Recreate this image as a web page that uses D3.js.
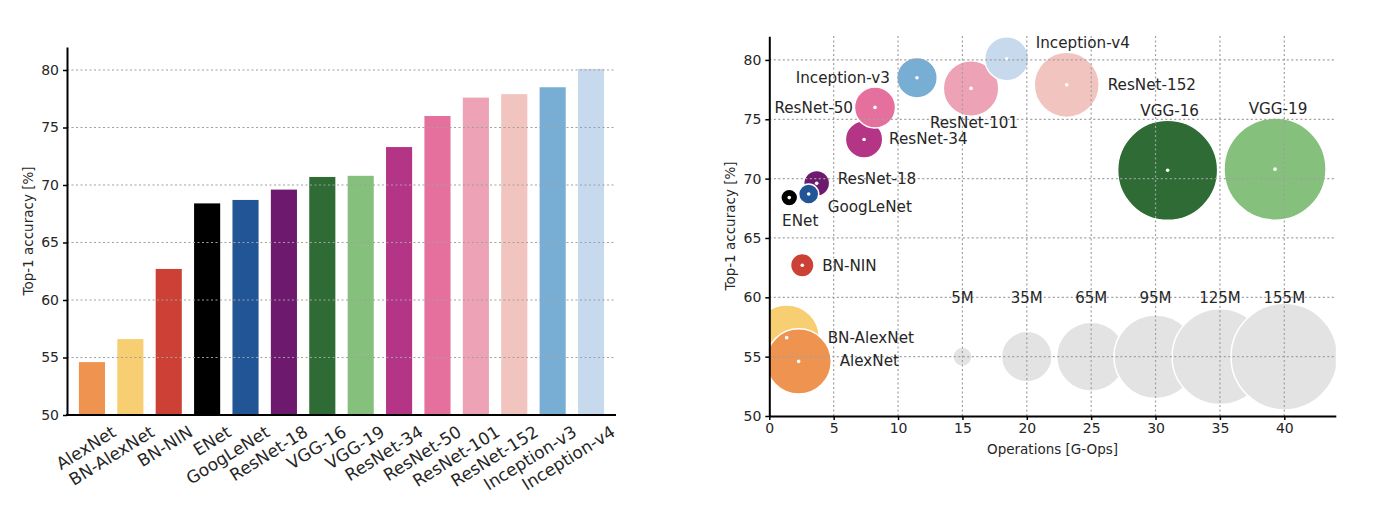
<!DOCTYPE html>
<html>
<head>
<meta charset="utf-8">
<script src="https://cdn.jsdelivr.net/npm/d3@7"></script>
<style>
  body { margin: 0; background: #fff; }
  svg { font-family: "DejaVu Sans", sans-serif; }
</style>
</head>
<body>
<script>
// Network names, in the order of the bar chart
var models = ["AlexNet", "BN-AlexNet", "BN-NIN", "ENet", "GoogLeNet", "ResNet-18", "VGG-16",
  "VGG-19", "ResNet-34", "ResNet-50", "ResNet-101", "ResNet-152", "Inception-v3", "Inception-v4"];

// Top-1 accuracy [%]
var accuracy = [54.6, 56.6, 62.7, 68.4, 68.7, 69.6, 70.7, 70.8, 73.3, 76.0, 77.6, 77.9, 78.5, 80.1];

// Operations [G-Ops]
var gops = [2.28, 1.35, 2.56, 1.55, 3.06, 3.68, 30.94, 39.28, 7.36, 8.21, 15.67, 23.1, 11.47, 18.44];

// Parameters [M] (bubble area)
var paramsM = [58, 58.4, 7.5, 3.9, 5.5, 9.2, 136.5, 142, 19, 23, 42, 57.7, 22.5, 26.4];

var colors = ["#ef9350", "#f7ce72", "#cc4036", "#000000", "#225595", "#6d1a6e", "#2e6b35",
  "#85c07d", "#b43586", "#e6709d", "#eda2b5", "#f2c4c0", "#78aed3", "#c7d9ec"];

// Size legend
var legendParams = [5, 35, 65, 95, 125, 155];
var legendOps = [15, 20, 25, 30, 35, 40];
var legendAcc = 55;
var legendLabels = ["5M", "35M", "65M", "95M", "125M", "155M"];

var yTicks = [50, 55, 60, 65, 70, 75, 80];
var xTicks = [0, 5, 10, 15, 20, 25, 30, 35, 40];

// label placement around each bubble (pixels from the centre)
var labelOffsets = {
  "AlexNet": [41, -1, "start"], "BN-AlexNet": [41, 0, "start"], "BN-NIN": [20, 0, "start"],
  "ENet": [11, 23, "middle"], "GoogLeNet": [19, 12, "start"], "ResNet-18": [21, -5, "start"],
  "ResNet-34": [25, -1, "start"], "ResNet-50": [-22, 0, "end"], "Inception-v3": [-27, 0, "end"],
  "ResNet-101": [3, 34, "middle"], "Inception-v4": [29, -16, "start"], "ResNet-152": [41, 0, "start"],
  "VGG-16": [2, -60, "middle"], "VGG-19": [3, -61, "middle"]
};
// drawing order of bubbles (later ones on top)
var drawOrder = ["BN-AlexNet", "AlexNet", "BN-NIN", "ENet", "ResNet-18", "GoogLeNet", "VGG-16", "VGG-19",
  "ResNet-34", "ResNet-50", "ResNet-101", "ResNet-152", "Inception-v3", "Inception-v4"];

var svg = d3.select("body").append("svg")
    .attr("width", 1390)
    .attr("height", 506);

var textColor = "#262626";
var gridColor = "#a0a0a0";

// ---------- Left: bar chart ----------
var left = svg.append("g");

var xBar = d3.scaleBand()
    .domain(models)
    .range([67, 616])
    .paddingInner(0.32)
    .paddingOuter(0.31);

var yBar = d3.scaleLinear().domain([50, 82]).range([415, 47]);

left.selectAll(".bar")
    .data(models)
    .enter().append("rect")
    .attr("class", "bar")
    .attr("x", function(d) { return xBar(d); })
    .attr("width", xBar.bandwidth())
    .attr("y", function(d, i) { return yBar(accuracy[i]); })
    .attr("height", function(d, i) { return yBar(50) - yBar(accuracy[i]); })
    .attr("fill", function(d, i) { return colors[i]; });

// horizontal grid
left.selectAll(".hgrid")
    .data(yTicks.slice(1))
    .enter().append("line")
    .attr("x1", 67).attr("x2", 616)
    .attr("y1", function(d) { return yBar(d); })
    .attr("y2", function(d) { return yBar(d); })
    .attr("stroke", gridColor)
    .attr("stroke-width", 1.2)
    .attr("stroke-dasharray", "2,2.5");

left.append("g")
    .attr("transform", "translate(67,0)")
    .call(d3.axisLeft(yBar).tickValues(yTicks).tickSize(4).tickSizeOuter(0).tickPadding(4));

left.append("line")
    .attr("x1", 66).attr("x2", 616)
    .attr("y1", 415).attr("y2", 415)
    .attr("stroke", "#000").attr("stroke-width", 2);

left.selectAll(".xlab")
    .data(models)
    .enter().append("text")
    .attr("transform", function(d) {
      return "translate(" + (xBar(d) + xBar.bandwidth() / 2 + 19) + ",425) rotate(-32)";
    })
    .attr("text-anchor", "end")
    .attr("dy", "0.7em")
    .attr("font-size", "17px")
    .attr("fill", textColor)
    .text(function(d) { return d; });

left.append("text")
    .attr("transform", "translate(33,231) rotate(-90)")
    .attr("text-anchor", "middle")
    .attr("font-size", "13.5px")
    .attr("fill", textColor)
    .text("Top-1 accuracy [%]");

// ---------- Right: bubble chart ----------
var right = svg.append("g");

var xOps = d3.scaleLinear().domain([0, 44]).range([769.3, 1335.8]);
var yAcc = d3.scaleLinear().domain([50, 82]).range([416, 36.2]);
var rSize = d3.scaleSqrt().domain([0, 155]).range([0, 53.3]);

svg.append("defs").append("clipPath")
    .attr("id", "plotclip")
    .append("rect")
    .attr("x", 769.3).attr("y", 36)
    .attr("width", 1335.8 - 769.3).attr("height", 380);

var bubbles = right.append("g").attr("clip-path", "url(#plotclip)");

// size legend (grey bubbles)
bubbles.selectAll(".legbub")
    .data(legendParams)
    .enter().append("circle")
    .attr("cx", function(d, i) { return xOps(legendOps[i]); })
    .attr("cy", yAcc(legendAcc))
    .attr("r", function(d) { return rSize(d); })
    .attr("fill", "#e3e3e3")
    .attr("stroke", "#fff")
    .attr("stroke-width", 1.5);

var order = drawOrder.map(function(m) { return models.indexOf(m); });

bubbles.selectAll(".bub")
    .data(order)
    .enter().append("circle")
    .attr("cx", function(i) { return xOps(gops[i]); })
    .attr("cy", function(i) { return yAcc(accuracy[i]); })
    .attr("r", function(i) { return rSize(paramsM[i]); })
    .attr("fill", function(i) { return colors[i]; })
    .attr("stroke", "#fff")
    .attr("stroke-width", 1.5);

bubbles.selectAll(".dot")
    .data(order)
    .enter().append("circle")
    .attr("cx", function(i) { return xOps(gops[i]); })
    .attr("cy", function(i) { return yAcc(accuracy[i]); })
    .attr("r", 1.8)
    .attr("fill", "#fff");

// grid on top of the bubbles
right.selectAll(".hg")
    .data(yTicks.slice(1))
    .enter().append("line")
    .attr("x1", 769.3).attr("x2", 1335.8)
    .attr("y1", function(d) { return yAcc(d); })
    .attr("y2", function(d) { return yAcc(d); })
    .attr("stroke", gridColor).attr("stroke-width", 1.2)
    .attr("stroke-dasharray", "2,2.5");

right.selectAll(".vg")
    .data(xTicks.slice(1))
    .enter().append("line")
    .attr("y1", 36).attr("y2", 416)
    .attr("x1", function(d) { return xOps(d); })
    .attr("x2", function(d) { return xOps(d); })
    .attr("stroke", gridColor).attr("stroke-width", 1.2)
    .attr("stroke-dasharray", "2,2.5");

right.append("g")
    .attr("transform", "translate(769.3,0)")
    .call(d3.axisLeft(yAcc).tickValues(yTicks).tickSize(4).tickSizeOuter(0).tickPadding(4));

right.append("g")
    .attr("transform", "translate(0,416)")
    .call(d3.axisBottom(xOps).tickValues(xTicks).tickSize(4).tickSizeOuter(0).tickPadding(3));

// bubble labels
right.selectAll(".blab")
    .data(models)
    .enter().append("text")
    .attr("x", function(d, i) { return xOps(gops[i]) + labelOffsets[d][0]; })
    .attr("y", function(d, i) { return yAcc(accuracy[i]) + labelOffsets[d][1]; })
    .attr("dy", "0.36em")
    .attr("text-anchor", function(d) { return labelOffsets[d][2]; })
    .attr("font-size", "15.2px")
    .attr("fill", textColor)
    .text(function(d) { return d; });

right.selectAll(".leglab")
    .data(legendLabels)
    .enter().append("text")
    .attr("x", function(d, i) { return xOps(legendOps[i]); })
    .attr("y", yAcc(60))
    .attr("dy", "0.36em")
    .attr("text-anchor", "middle")
    .attr("font-size", "15px")
    .attr("fill", textColor)
    .text(function(d) { return d; });

right.append("text")
    .attr("x", (769.3 + 1335.8) / 2)
    .attr("y", 454)
    .attr("text-anchor", "middle")
    .attr("font-size", "13.5px")
    .attr("fill", textColor)
    .text("Operations [G-Ops]");

right.append("text")
    .attr("transform", "translate(735,226) rotate(-90)")
    .attr("text-anchor", "middle")
    .attr("font-size", "13.5px")
    .attr("fill", textColor)
    .text("Top-1 accuracy [%]");

// axis styling like matplotlib
svg.selectAll(".domain").attr("stroke", "#000").attr("stroke-width", 2);
svg.selectAll(".tick line").attr("stroke", "#000").attr("stroke-width", 1.5);
svg.selectAll(".tick text").attr("font-size", "14px").attr("fill", textColor)
    .attr("font-family", "DejaVu Sans, sans-serif");
</script>
</body>
</html>
